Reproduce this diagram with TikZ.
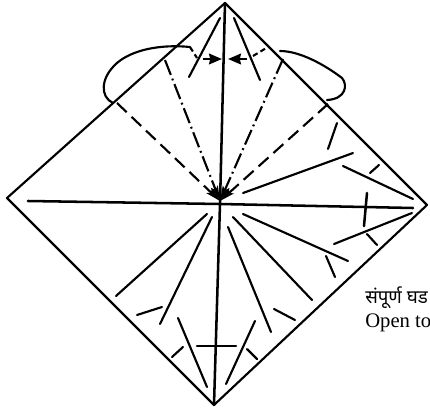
\documentclass[tikz,border=0pt]{standalone}
\usepackage{fontspec}
\setmainfont{Liberation Serif}
\newfontfamily\devfont[Script=Devanagari]{Noto Sans}
\usetikzlibrary{arrows.meta}
\tikzset{
  paperedge/.style={line width=1.6pt, black, line cap=round, line join=round},
  crease/.style={line width=1.6pt, black, line cap=round},
  axisline/.style={line width=1.9pt, black, line cap=round},
  valleyfold/.style={line width=1.6pt, black, dash pattern=on 10pt off 5pt, -{Stealth[length=4mm,width=1.9mm,inset=0.8mm]}},
  mountainfold/.style={line width=1.6pt, black, dash pattern=on 12pt off 3pt on 1.4pt off 3pt, -{Stealth[length=4mm,width=1.9mm,inset=0.8mm]}},
  pushmark/.style={line width=1.9pt, black, -{Stealth[length=3.4mm,width=2.8mm,inset=0.3mm]}},
  hintdash/.style={line width=1.6pt, black, dash pattern=on 4pt off 2.5pt},
  caption/.style={anchor=base west, inner sep=0pt, font=\fontsize{14}{16}\selectfont},
}
\begin{document}
\begin{tikzpicture}[x=0.75pt, y=-0.75pt]
\useasboundingbox (0,0) rectangle (430,412);
\fill[white] (0,0) rectangle (430,412);
\coordinate (top) at (225,3); \coordinate (lft) at (7,198); \coordinate (bot) at (214,405); \coordinate (rgt) at (427,205);
\coordinate (mid) at (220,204); \coordinate (tip) at (220,201);
% paper outline and the two axes
\draw[paperedge] (top) -- (lft) -- (bot) -- (rgt) -- cycle;
\draw[axisline] (top) -- (mid) -- (bot);
\draw[axisline] (28,201) -- (mid) -- (413,208);
% flaps behind the top corner
\draw[paperedge] (113,103) .. controls (100,97) and (100,78) .. (117,63) .. controls (132,50) and (160,44) .. (190,47);
\draw[hintdash] (190,47) -- (197,58);
\draw[hintdash] (253,56) -- (268,47);
\draw[paperedge] (280,51) .. controls (300,51) and (325,65) .. (342,78) .. controls (348,85) and (346,99) .. (327,100);
% folds running into the centre
\draw[valleyfold] (117,103) -- (tip);
\draw[mountainfold] (165,60) -- (tip);
\draw[mountainfold] (283,59) -- (tip);
\draw[valleyfold] (328,104) -- (tip);
% push arrows at the top
\draw[pushmark] (203,59) -- (222,59);
\draw[pushmark] (247,59) -- (228,59);
% creases, top
\foreach \xa/\ya/\xb/\yb in {220/18/189/77, 234/18/260/80}
  \draw[crease] (\xa,\ya) -- (\xb,\yb);
% creases, right half
\foreach \xa/\ya/\xb/\yb in {243/193/353/153, 337/123/328/149, 343/166/413/199, 379/165/370/173,
    412/213/334/244, 367/234/377/245, 243/214/348/261, 326/256/335/277,
    233/217/312/300, 228/227/271/332, 274/309/295/320}
  \draw[crease] (\xa,\ya) -- (\xb,\yb);
\draw[axisline] (367,193) -- (364,226);
% creases, lower left
\foreach \xa/\ya/\xb/\yb in {207/214/116/296, 212/217/160/324, 162/307/137/315,
    178/318/207/387, 183/347/172/357, 255/321/226/384, 247/349/257/359}
  \draw[crease] (\xa,\ya) -- (\xb,\yb);
\draw[axisline] (197,346) -- (236,346);
% caption, cut off at the page edge as printed
\node[caption] (capmr) at (365,303) {\devfont संपूर्ण घड};
\node[caption, font=\fontsize{15.5}{17}\selectfont] (capen) at (365,327) {Open to};
\end{tikzpicture}
\end{document}
